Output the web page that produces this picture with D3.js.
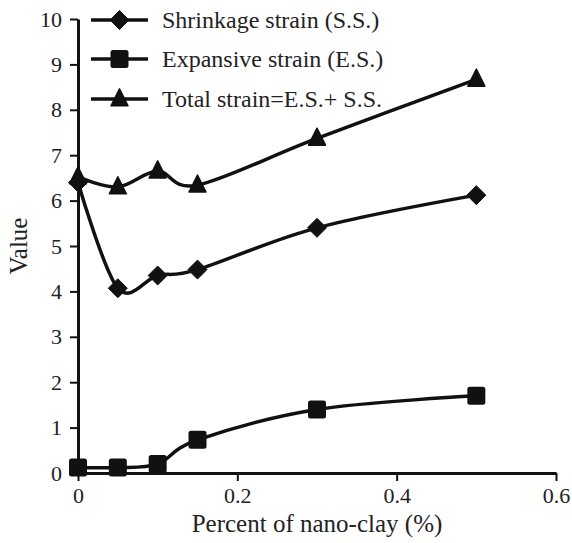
<!DOCTYPE html>
<html>
<head>
<meta charset="utf-8">
<script src="https://cdn.jsdelivr.net/npm/d3@7"></script>
<style>
  html, body { margin: 0; padding: 0; background: #fff; }
</style>
</head>
<body>
<svg id="chart" width="572" height="543"></svg>
<script>
// ---- data ----
const nanoClay = [0, 0.05, 0.1, 0.15, 0.3, 0.5];
const shrinkage = [6.4, 4.07, 4.35, 4.48, 5.4, 6.12];
const expansive = [0.12, 0.12, 0.2, 0.73, 1.4, 1.7];
const total = [6.52, 6.3, 6.65, 6.34, 7.37, 8.67];
const seriesNames = ["Shrinkage strain (S.S.)", "Expansive strain (E.S.)", "Total strain=E.S.+ S.S."];
const seriesMarkers = ["diamond", "square", "triangle"];
const xTicks = [0, 0.2, 0.4, 0.6];
const yTicks = [0, 1, 2, 3, 4, 5, 6, 7, 8, 9, 10];
const xTitle = "Percent of nano-clay (%)";
const yTitle = "Value";

const seriesValues = [shrinkage, expansive, total];
const ink = "#111";
const FONT = "Liberation Serif";

const svg = d3.select("#chart");
const margin = { left: 78, right: 16, top: 19, bottom: 70 };
const W = 572, H = 543;

const x = d3.scaleLinear().domain([0, 0.6]).range([margin.left, W - margin.right]);
const y = d3.scaleLinear().domain([0, 10]).range([H - margin.bottom, margin.top]);

// axes
const xAxis = svg.append("g")
  .attr("transform", `translate(0,${y(0)})`)
  .call(d3.axisBottom(x).tickValues(xTicks).tickFormat(d => d === 0 ? "0" : d3.format(".1f")(d)).tickSize(8).tickSizeOuter(0).tickPadding(6));
const yAxis = svg.append("g")
  .attr("transform", `translate(${x(0)},0)`)
  .call(d3.axisLeft(y).tickValues(yTicks).tickFormat(d3.format("d")).tickSize(8).tickSizeOuter(0).tickPadding(8));

[xAxis, yAxis].forEach(g => {
  g.attr("font-family", null);
  g.select(".domain").attr("stroke", ink).attr("stroke-width", 3);
  g.selectAll(".tick line").attr("stroke", ink).attr("stroke-width", 2);
  g.selectAll(".tick text").attr("fill", "#222")
    .style("font-family", FONT).style("font-size", "22px");
});

// titles
svg.append("text")
  .attr("x", (x(0) + x(0.6)) / 2).attr("y", 532)
  .attr("text-anchor", "middle").attr("fill", "#222")
  .style("font-family", FONT).style("font-size", "25px").text(xTitle);
svg.append("text")
  .attr("transform", `translate(27,${(y(0) + y(10)) / 2}) rotate(-90)`)
  .attr("text-anchor", "middle").attr("fill", "#222")
  .style("font-family", FONT).style("font-size", "25px").text(yTitle);

// marker drawing
function marker(g, type, cx, cy) {
  if (type === "diamond") {
    const s = 9.5;
    g.append("path").attr("d", `M${cx},${cy - s}L${cx + s},${cy}L${cx},${cy + s}L${cx - s},${cy}Z`)
      .attr("fill", ink).attr("stroke", ink).attr("stroke-width", 1).attr("stroke-linejoin", "round");
  } else if (type === "square") {
    const s = 18;
    g.append("rect").attr("x", cx - s / 2).attr("y", cy - s / 2).attr("width", s).attr("height", s)
      .attr("rx", 2.5).attr("fill", ink);
  } else {
    const w = 17, h = 17;
    g.append("path").attr("d", `M${cx},${cy - h * 0.6}L${cx + w / 2},${cy + h * 0.4}L${cx - w / 2},${cy + h * 0.4}Z`)
      .attr("fill", ink).attr("stroke", ink).attr("stroke-width", 1.5).attr("stroke-linejoin", "round");
  }
}

const line = d3.line()
  .x(d => x(d[0])).y(d => y(d[1]))
  .curve(d3.curveCardinal.tension(0));

const plot = svg.append("g");
seriesValues.forEach((vals, i) => {
  const pts = nanoClay.map((c, j) => [c, vals[j]]);
  plot.append("path").datum(pts).attr("d", line)
    .attr("fill", "none").attr("stroke", ink).attr("stroke-width", 3.5);
});
seriesValues.forEach((vals, i) => {
  const g = plot.append("g");
  nanoClay.forEach((c, j) => marker(g, seriesMarkers[i], x(c), y(vals[j])));
});

// legend
const legendRows = [20, 59, 99];
const legend = svg.append("g");
seriesNames.forEach((name, i) => {
  const yy = legendRows[i];
  legend.append("line").attr("x1", 91).attr("x2", 148).attr("y1", yy).attr("y2", yy)
    .attr("stroke", ink).attr("stroke-width", 3.5);
  marker(legend, seriesMarkers[i], 119.5, yy);
  legend.append("text").attr("x", 162).attr("y", yy).attr("dy", "0.35em").attr("fill", "#222")
    .style("font-family", FONT).style("font-size", "24px").text(name);
});
</script>
</body>
</html>
